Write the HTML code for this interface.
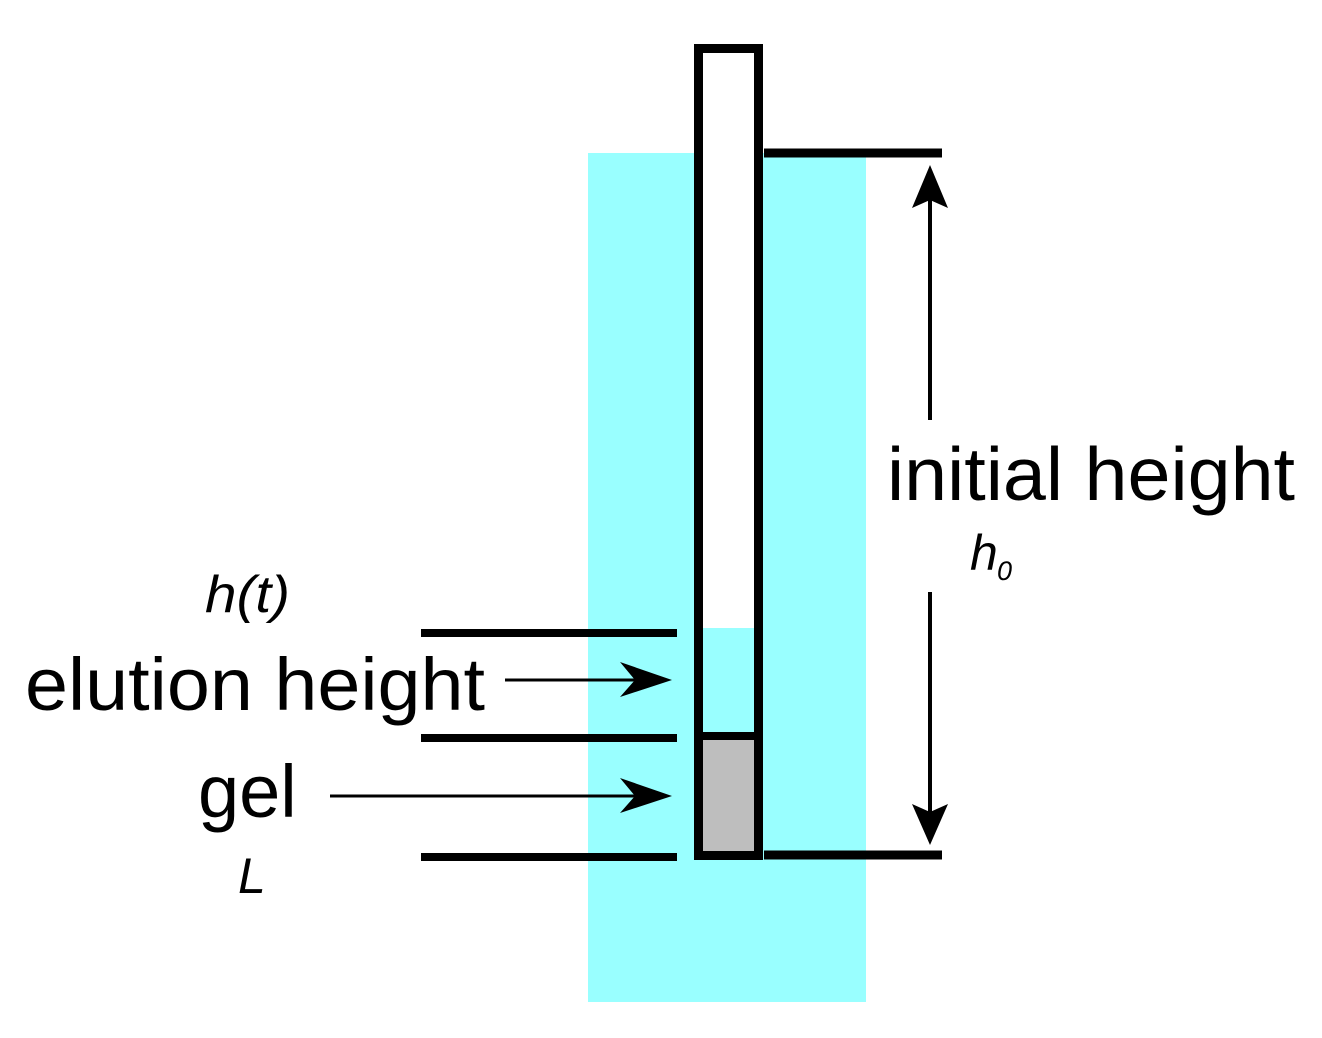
<!DOCTYPE html>
<html><head><meta charset="utf-8"><style>
body{margin:0;background:#fff}
svg{display:block}
text{font-family:"Liberation Sans",Arial,sans-serif;fill:#000}
</style></head><body>
<svg width="1322" height="1038" viewBox="0 0 1322 1038" xmlns="http://www.w3.org/2000/svg">
<rect width="1322" height="1038" fill="#fff"/>
<rect x="588" y="153" width="278" height="849" fill="#99ffff"/>
<rect x="699" y="49" width="60" height="807" fill="#fff"/>
<rect x="703" y="628" width="51" height="106" fill="#99ffff"/>
<rect x="703" y="740" width="51" height="112" fill="#bebebe"/>
<rect x="698.5" y="48.5" width="60" height="807" fill="none" stroke="#000" stroke-width="9"/>
<line x1="703" y1="736" x2="754" y2="736" stroke="#000" stroke-width="8"/>
<line x1="764" y1="153" x2="942" y2="153" stroke="#000" stroke-width="9"/>
<line x1="764" y1="855" x2="942" y2="855" stroke="#000" stroke-width="9"/>
<line x1="421" y1="633" x2="677" y2="633" stroke="#000" stroke-width="8"/>
<line x1="421" y1="738" x2="677" y2="738" stroke="#000" stroke-width="8"/>
<line x1="421" y1="857" x2="677" y2="857" stroke="#000" stroke-width="8"/>
<line x1="930" y1="200" x2="930" y2="420" stroke="#000" stroke-width="4"/>
<polygon points="930,165 948,208 930,200 912,208" fill="#000"/>
<line x1="930" y1="592" x2="930" y2="812" stroke="#000" stroke-width="4"/>
<polygon points="930,845 948,804 930,812 912,804" fill="#000"/>
<line x1="505" y1="680" x2="640" y2="680" stroke="#000" stroke-width="3"/>
<polygon points="672,680 620,662 635,680 620,697" fill="#000"/>
<line x1="330" y1="796" x2="640" y2="796" stroke="#000" stroke-width="3"/>
<polygon points="672,796 620,778 635,796 620,813" fill="#000"/>
<text x="887" y="500" font-size="75" textLength="408" lengthAdjust="spacingAndGlyphs">initial height</text>
<text x="970" y="570" font-size="50" font-style="italic">h</text>
<text x="997" y="580" font-size="27" font-style="italic">0</text>
<text x="205" y="612" font-size="52" font-style="italic" textLength="85" lengthAdjust="spacingAndGlyphs">h(t)</text>
<text x="25" y="710" font-size="74" textLength="460" lengthAdjust="spacingAndGlyphs">elution height</text>
<text x="198" y="817" font-size="74">gel</text>
<text x="238" y="893" font-size="50" font-style="italic">L</text>
</svg>
</body></html>
